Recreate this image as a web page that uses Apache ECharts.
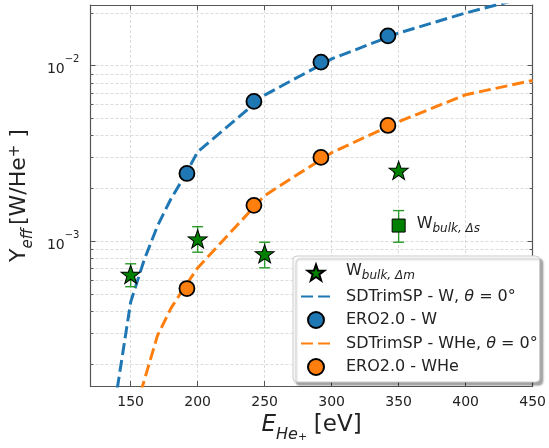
<!DOCTYPE html>
<html>
<head>
<meta charset="utf-8">
<script src="https://cdn.jsdelivr.net/npm/echarts@6/dist/echarts.min.js"></script>
<style>
  html, body { margin: 0; padding: 0; background: #ffffff; }
  #chart { width: 549px; height: 448px; }
</style>
</head>
<body>
<div id="chart"></div>
<script>
// SDTrimSP effective sputtering yields at normal incidence (theta = 0°)
const sdEnergyW   = [140, 150, 160, 170, 180, 190, 200, 250, 300, 350, 400, 450];
const sdYieldW    = [1.45e-4, 4.5e-4, 7.8e-4, 1.22e-3, 1.74e-3, 2.33e-3, 3.23e-3, 6.79e-3, 1.09e-2, 1.53e-2, 1.99e-2, 2.5e-2];
const sdEnergyWHe = [150, 160, 170, 180, 190, 200, 250, 300, 350, 400, 450];
const sdYieldWHe  = [9e-5, 1.6e-4, 2.9e-4, 4.15e-4, 5.45e-4, 7.05e-4, 1.82e-3, 3.19e-3, 4.79e-3, 6.82e-3, 8.22e-3];

// ERO2.0 results
const eroEnergy   = [192, 242, 292, 342];
const eroYieldW   = [2.43e-3, 6.25e-3, 1.045e-2, 1.475e-2];
const eroYieldWHe = [5.38e-4, 1.6e-3, 3.0e-3, 4.56e-3];

// Experiment: bulk W from mass loss, with uncertainty bounds
const bulkMEnergy = [150, 200, 250, 350];
const bulkMYield  = [6.47e-4, 1.03e-3, 8.48e-4, 2.53e-3];
const bulkMLow    = [5.51e-4, 8.66e-4, 7.06e-4, 2.47e-3];
const bulkMHigh   = [7.44e-4, 1.21e-3, 9.87e-4, 2.59e-3];

// Experiment: bulk W from step height
const bulkSEnergy = [350];
const bulkSYield  = [1.228e-3];
const bulkSLow    = [9.87e-4];
const bulkSHigh   = [1.494e-3];

// Axis ranges
const X_MIN = 120, X_MAX = 450;
const Y_MIN = 1.5e-4, Y_MAX = 0.0221;

const FONT = 'DejaVu Sans';
const TXT = '#222222';
const SPINE = '#555555';
const GRID = '#d2d2d2';
const BLUE = '#1f77b4';
const ORANGE = '#ff7f0e';
const GREEN = '#008000';
const ERR = '#2a9a2a';

const STAR = 'path://M0,-10 L2.35,-3.24 L9.51,-3.09 L3.8,1.24 L5.88,8.09 L0,4 L-5.88,8.09 L-3.8,1.24 L-9.51,-3.09 L-2.35,-3.24 Z';

// minor log-decade positions (2..9 x 10^k) inside the y range
const minorY = [];
for (let e = -4; e <= -1; e++) {
  for (let k = 2; k <= 9; k++) {
    const v = k * Math.pow(10, e);
    if (v > Y_MIN && v < Y_MAX) minorY.push(v);
  }
}

const NAME_BULK_M = 'W bulk Δm';
const NAME_SD_W = 'SDTrimSP - W, θ = 0°';
const NAME_ERO_W = 'ERO2.0 - W';
const NAME_SD_WHE = 'SDTrimSP - WHe, θ = 0°';
const NAME_ERO_WHE = 'ERO2.0 - WHe';

function errorBarRender(params, api) {
  const x = api.value(0), lo = api.value(1), hi = api.value(2);
  const a = api.coord([x, hi]);
  const b = api.coord([x, lo]);
  const w = 5.5;
  const st = { stroke: ERR, lineWidth: 1.4 };
  return {
    type: 'group',
    children: [
      { type: 'line', shape: { x1: a[0], y1: a[1], x2: b[0], y2: b[1] }, style: st },
      { type: 'line', shape: { x1: a[0] - w, y1: a[1], x2: a[0] + w, y2: a[1] }, style: st },
      { type: 'line', shape: { x1: b[0] - w, y1: b[1], x2: b[0] + w, y2: b[1] }, style: st }
    ]
  };
}

const zip = (xs, ys) => xs.map((x, i) => [x, ys[i]]);

const chart = echarts.init(document.getElementById('chart'), null, { renderer: 'canvas' });

const axisLineStyle = { lineStyle: { color: SPINE, width: 1.2 } };
const tickStyle = { inside: true, length: 5, lineStyle: { color: SPINE, width: 1 } };
const gridLine = { show: true, lineStyle: { color: GRID, width: 0.8, type: [3, 2] } };
const hiddenSymbol = { color: 'rgba(0,0,0,0)', borderWidth: 0, opacity: 0 };

const option = {
  animation: false,
  backgroundColor: '#ffffff',
  grid: { left: 89, top: 5, right: 14, bottom: 61, containLabel: false },
  xAxis: [
    {
      type: 'value', position: 'bottom', min: X_MIN, max: X_MAX,
      axisLine: axisLineStyle, axisTick: tickStyle, splitLine: gridLine,
      axisLabel: {
        margin: 9, color: TXT, fontFamily: FONT, fontSize: 14,
        formatter: v => (v % 50 === 0 ? String(v) : '')
      },
      name: '{e|E}{s|He}{p|+}  {t|[eV]}',
      nameLocation: 'middle', nameGap: 28,
      nameTextStyle: {
        rich: {
          e: { fontFamily: FONT, fontSize: 23, fontStyle: 'italic', color: TXT, lineHeight: 29, verticalAlign: 'top' },
          s: { fontFamily: FONT, fontSize: 16, fontStyle: 'italic', color: TXT, lineHeight: 18, verticalAlign: 'bottom' },
          p: { fontFamily: FONT, fontSize: 11, fontStyle: 'italic', color: TXT, lineHeight: 29, verticalAlign: 'bottom' },
          t: { fontFamily: FONT, fontSize: 23, color: TXT, lineHeight: 29, verticalAlign: 'top' }
        }
      }
    },
    {
      type: 'value', position: 'top', min: X_MIN, max: X_MAX,
      axisLine: axisLineStyle, axisTick: tickStyle, splitLine: { show: false },
      axisLabel: { show: false }
    }
  ],
  yAxis: [
    {
      type: 'log', logBase: 10, min: Y_MIN, max: Y_MAX, position: 'left',
      axisLine: axisLineStyle, axisTick: tickStyle, splitLine: gridLine,
      axisLabel: {
        margin: 11, color: TXT, fontFamily: FONT,
        formatter: v => {
          const l = Math.log10(v), e = Math.round(l);
          if (Math.abs(l - e) > 1e-6) return '';
          return '{b|10}{s|−' + (-e) + '}';
        },
        rich: {
          b: { fontFamily: FONT, fontSize: 14, color: TXT, lineHeight: 22, verticalAlign: 'bottom' },
          s: { fontFamily: FONT, fontSize: 10, color: TXT, lineHeight: 12, verticalAlign: 'top' }
        }
      },
      name: '{y|Y}{s|eff} {t|[W/He}{p|+}{t| ]}',
      nameLocation: 'middle', nameGap: 42, nameRotate: 90,
      nameTextStyle: {
        rich: {
          y: { fontFamily: FONT, fontSize: 22, color: TXT, lineHeight: 28, verticalAlign: 'top' },
          s: { fontFamily: FONT, fontSize: 15, fontStyle: 'italic', color: TXT, lineHeight: 17, verticalAlign: 'bottom' },
          t: { fontFamily: FONT, fontSize: 22, color: TXT, lineHeight: 28, verticalAlign: 'top' },
          p: { fontFamily: FONT, fontSize: 15, color: TXT, lineHeight: 15, verticalAlign: 'top' }
        }
      }
    },
    {
      type: 'log', logBase: 10, min: Y_MIN, max: Y_MAX, position: 'right',
      axisLine: axisLineStyle, axisTick: tickStyle, splitLine: { show: false },
      axisLabel: { show: false }
    }
  ],
  legend: {
    data: [
      { name: NAME_BULK_M },
      { name: NAME_SD_W, itemStyle: hiddenSymbol },
      { name: NAME_ERO_W },
      { name: NAME_SD_WHE, itemStyle: hiddenSymbol },
      { name: NAME_ERO_WHE }
    ],
    orient: 'vertical', left: 293, top: 256,
    padding: [7, 2, 6, 7],
    itemWidth: 30, itemHeight: 16, itemGap: 6.5,
    backgroundColor: '#ffffff', borderColor: '#cccccc', borderWidth: 1, borderRadius: 4,
    shadowColor: 'rgba(0,0,0,0.35)', shadowOffsetX: 3, shadowOffsetY: 3, shadowBlur: 2,
    formatter: name => {
      if (name === NAME_BULK_M) return '{w|W}{sub|bulk, Δm}';
      return name.replace('θ', '{i|θ}');
    },
    textStyle: {
      fontFamily: FONT, fontSize: 16, color: TXT, padding: [0, 0, 0, 10],
      rich: {
        w: { fontFamily: FONT, fontSize: 16, color: TXT, lineHeight: 19, verticalAlign: 'top' },
        sub: { fontFamily: FONT, fontSize: 12, fontStyle: 'italic', color: TXT, lineHeight: 13, verticalAlign: 'bottom' },
        i: { fontFamily: FONT, fontSize: 16, fontStyle: 'italic', color: TXT }
      }
    }
  },
  series: [
    {
      // minor gridlines and minor ticks on both y spines
      type: 'custom', silent: true, z: 1,
      xAxisIndex: 0, yAxisIndex: 0,
      data: minorY.map(v => [X_MIN, v]),
      encode: { x: 0, y: 1 },
      renderItem: (params, api) => {
        const v = api.value(1);
        const p0 = api.coord([X_MIN, v]);
        const p1 = api.coord([X_MAX, v]);
        const y = Math.round(p0[1]) + 0.5;
        return {
          type: 'group',
          children: [
            { type: 'line', shape: { x1: p0[0], y1: y, x2: p1[0], y2: y }, style: { stroke: GRID, lineWidth: 0.8, lineDash: [3, 2] } },
            { type: 'line', shape: { x1: p0[0], y1: y, x2: p0[0] + 3, y2: y }, style: { stroke: SPINE, lineWidth: 1 } },
            { type: 'line', shape: { x1: p1[0] - 3, y1: y, x2: p1[0], y2: y }, style: { stroke: SPINE, lineWidth: 1 } }
          ]
        };
      }
    },
    {
      name: NAME_SD_W, type: 'line', symbol: 'none', clip: true,
      data: zip(sdEnergyW, sdYieldW),
      lineStyle: { color: BLUE, width: 3, type: [12, 5] },
      itemStyle: { color: BLUE }, z: 2
    },
    {
      name: NAME_SD_WHE, type: 'line', symbol: 'none', clip: true,
      data: zip(sdEnergyWHe, sdYieldWHe),
      lineStyle: { color: ORANGE, width: 3, type: [12, 5] },
      itemStyle: { color: ORANGE }, z: 2
    },
    {
      name: NAME_ERO_W, type: 'scatter', symbol: 'circle', symbolSize: 15,
      data: zip(eroEnergy, eroYieldW),
      itemStyle: { color: BLUE, borderColor: '#000000', borderWidth: 1.8, opacity: 1 }, z: 3
    },
    {
      name: NAME_ERO_WHE, type: 'scatter', symbol: 'circle', symbolSize: 15,
      data: zip(eroEnergy, eroYieldWHe),
      itemStyle: { color: ORANGE, borderColor: '#000000', borderWidth: 1.8, opacity: 1 }, z: 3
    },
    {
      type: 'custom', silent: true, z: 3,
      data: bulkMEnergy.map((x, i) => [x, bulkMLow[i], bulkMHigh[i]]),
      encode: { x: 0, y: [1, 2] },
      renderItem: errorBarRender
    },
    {
      type: 'custom', silent: true, z: 3,
      data: bulkSEnergy.map((x, i) => [x, bulkSLow[i], bulkSHigh[i]]),
      encode: { x: 0, y: [1, 2] },
      renderItem: errorBarRender
    },
    {
      name: NAME_BULK_M, type: 'scatter', symbol: STAR, symbolSize: [19, 18],
      data: zip(bulkMEnergy, bulkMYield),
      itemStyle: { color: GREEN, borderColor: '#000000', borderWidth: 1, opacity: 1 }, z: 4
    },
    {
      name: 'W bulk Δs', type: 'scatter', symbol: 'rect', symbolSize: 13,
      data: zip(bulkSEnergy, bulkSYield),
      itemStyle: { color: GREEN, borderColor: '#000000', borderWidth: 1, opacity: 1 }, z: 4,
      label: {
        show: true, position: 'right', distance: 11,
        formatter: '{w|W}{sub|bulk, Δs}',
        rich: {
          w: { fontFamily: FONT, fontSize: 16, color: TXT, lineHeight: 19, verticalAlign: 'top' },
          sub: { fontFamily: FONT, fontSize: 12, fontStyle: 'italic', color: TXT, lineHeight: 13, verticalAlign: 'bottom' }
        }
      }
    }
  ]
};

chart.setOption(option);
</script>
</body>
</html>
